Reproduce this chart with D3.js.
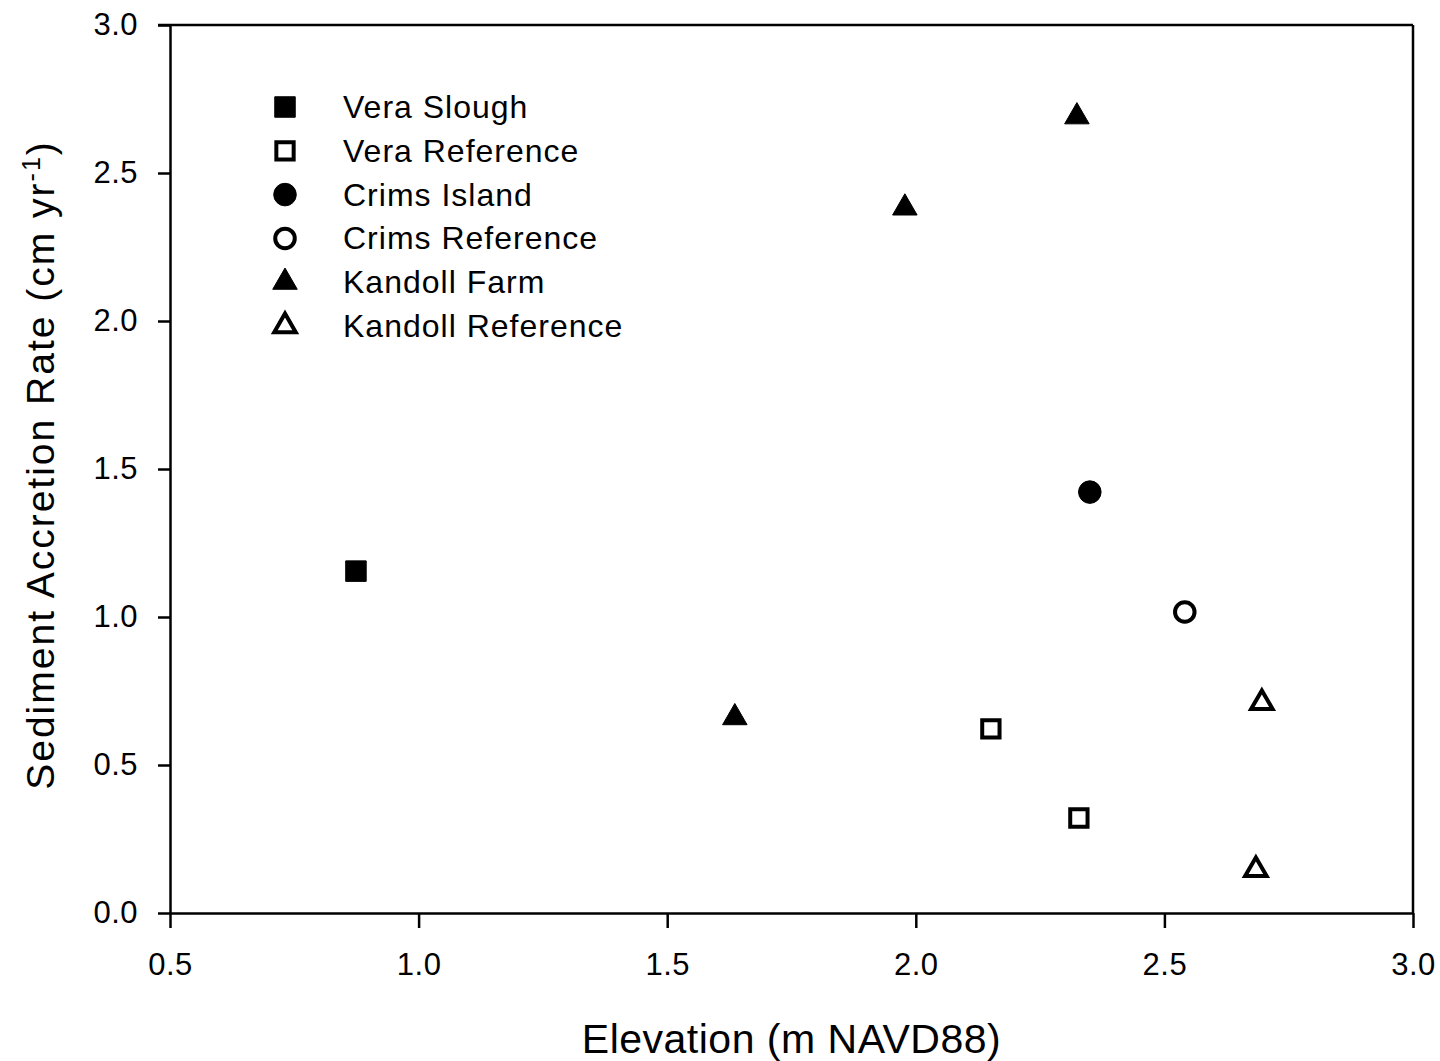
<!DOCTYPE html>
<html>
<head>
<meta charset="utf-8">
<script src="https://cdn.jsdelivr.net/npm/d3@7"></script>
<style>
  html, body { margin: 0; padding: 0; background: #fff; }
  svg { display: block; font-family: "Liberation Sans", Arial, sans-serif; }
</style>
</head>
<body>
<svg id="chart" width="1440" height="1061"></svg>
<script>
// ---- data ----
const seriesNames = ["Vera Slough", "Vera Reference", "Crims Island", "Crims Reference", "Kandoll Farm", "Kandoll Reference"];
const seriesShapes = ["square", "square", "circle", "circle", "triangle", "triangle"];
const seriesFilled = [true, false, true, false, true, false];

const veraSlough = [{x: 0.874, y: 1.155}];
const veraReference = [{x: 2.151, y: 0.622}, {x: 2.328, y: 0.321}];
const crimsIsland = [{x: 2.350, y: 1.422}];
const crimsReference = [{x: 2.541, y: 1.017}];
const kandollFarm = [{x: 2.324, y: 2.690}, {x: 1.978, y: 2.382}, {x: 1.636, y: 0.660}];
const kandollReference = [{x: 2.696, y: 0.710}, {x: 2.684, y: 0.146}];
const seriesData = [veraSlough, veraReference, crimsIsland, crimsReference, kandollFarm, kandollReference];

const xTicks = [0.5, 1.0, 1.5, 2.0, 2.5, 3.0];
const yTicks = [0.0, 0.5, 1.0, 1.5, 2.0, 2.5, 3.0];

// ---- layout ----
(function () {
const svg = d3.select("#chart");
const pL = 170, pR = 1413, pT = 25, pB = 913;
const x = d3.scaleLinear().domain([0.5, 3.0]).range([pL, pR]);
const y = d3.scaleLinear().domain([0, 3.0]).range([pB, pT]);

const symbolFor = (shape, filled) => {
  if (shape === "square") return d3.symbol().type(d3.symbolSquare).size(filled ? 420 : 300)();
  if (shape === "circle") return d3.symbol().type(d3.symbolCircle).size(filled ? 400 : 300)();
  return d3.symbol().type(d3.symbolTriangle).size(filled ? 260 : 200)();
};

// frame
svg.append("line").attr("x1", pL - 12).attr("x2", pR).attr("y1", pT).attr("y2", pT)
  .attr("stroke", "#000").attr("stroke-width", 2.5);
svg.append("line").attr("x1", pR).attr("x2", pR).attr("y1", pT).attr("y2", pB)
  .attr("stroke", "#000").attr("stroke-width", 2.5);

// axes
const xAxis = d3.axisBottom(x).tickValues(xTicks).tickFormat(d3.format(".1f")).tickSize(15).tickSizeOuter(0).tickPadding(25);
const gx = svg.append("g").attr("transform", `translate(0,${pB})`).call(xAxis);
const yAxis = d3.axisLeft(y).tickValues(yTicks).tickFormat(d3.format(".1f")).tickSize(12).tickSizeOuter(0).tickPadding(20);
const gy = svg.append("g").attr("transform", `translate(${pL},0)`).call(yAxis);
[gx, gy].forEach(g => {
  g.select(".domain").attr("stroke", "#000").attr("stroke-width", 2.5);
  g.selectAll(".tick line").attr("stroke", "#000").attr("stroke-width", 2.5);
  g.selectAll(".tick text").attr("fill", "#000").style("font-size", "31px")
    .style("letter-spacing", "0.5px")
    .style("font-family", '"Liberation Sans", Arial, sans-serif');
});

// axis titles
svg.append("text").attr("x", (pL + pR) / 2).attr("y", 1053).attr("text-anchor", "middle")
  .style("font-size", "41px").style("letter-spacing", "0.5px").attr("fill", "#000").text("Elevation (m NAVD88)");

const yt = svg.append("text").attr("transform", `translate(54,465) rotate(-90)`)
  .attr("text-anchor", "middle").style("font-size", "39px").style("letter-spacing", "2px").attr("fill", "#000");
yt.append("tspan").text("Sediment Accretion Rate (cm yr");
yt.append("tspan").attr("dy", -14).style("font-size", "25px").text("-1");
yt.append("tspan").attr("dy", 14).text(")");

// points
seriesData.forEach((pts, i) => {
  const filled = seriesFilled[i];
  svg.append("g").selectAll("path").data(pts).join("path")
    .attr("d", symbolFor(seriesShapes[i], filled))
    .attr("transform", d => `translate(${x(d.x)},${y(d.y)})`)
    .attr("fill", filled ? "#000" : "#fff")
    .attr("stroke", "#000")
    .attr("stroke-width", filled ? 1 : 4);
});

// legend
const legend = svg.append("g");
seriesNames.forEach((name, i) => {
  const ly = 107 + i * 43.8;
  legend.append("path").attr("d", symbolFor(seriesShapes[i], seriesFilled[i]))
    .attr("transform", `translate(285,${ly})`)
    .attr("fill", seriesFilled[i] ? "#000" : "#fff")
    .attr("stroke", "#000").attr("stroke-width", seriesFilled[i] ? 1 : 4);
  legend.append("text").attr("x", 343).attr("y", ly + 11).style("font-size", "32px")
    .style("letter-spacing", "1px").attr("fill", "#000").text(name);
});
})();
</script>
</body>
</html>
